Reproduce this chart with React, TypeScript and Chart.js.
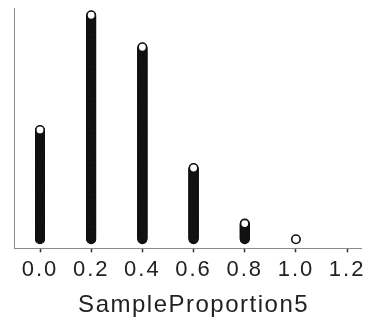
import React, { useEffect, useRef } from "react";
import { Chart, registerables } from "chart.js";

Chart.register(...registerables);

const proportions = [0.0, 0.2, 0.4, 0.6, 0.8, 1.0];
const counts = [182, 372, 319, 119, 27, 1];
const xTicks = [0.0, 0.2, 0.4, 0.6, 0.8, 1.0, 1.2];
const xTitle = "SampleProportion5";

const letterSpacingPlugin = {
  id: "letterSpacing",
  beforeDraw(chart: any) {
    (chart.ctx as any).letterSpacing = "2px";
  },
  afterDraw(chart: any) {
    (chart.ctx as any).letterSpacing = "0px";
  },
};

export default function App() {
  const ref = useRef<HTMLCanvasElement | null>(null);

  useEffect(() => {
    if (!ref.current) return;
    const points: { x: number; y: number }[] = [];
    proportions.forEach((p, i) => {
      for (let k = 1; k <= counts[i]; k++) points.push({ x: p, y: k });
    });
    const chart = new Chart(ref.current, {
      type: "scatter",
      data: {
        datasets: [
          {
            data: points,
            pointRadius: 4.2,
            pointBorderWidth: 1.6,
            pointBackgroundColor: "#ffffff",
            pointBorderColor: "#111111",
            showLine: false,
          },
        ],
      },
      options: {
        animation: false,
        responsive: false,
        events: [],
        layout: { padding: { left: 14, right: 0, top: 8, bottom: 2.5 } },
        plugins: {
          legend: { display: false },
          tooltip: { enabled: false },
        },
        scales: {
          x: {
            type: "linear",
            min: -0.1016,
            max: 1.255,
            afterBuildTicks: (scale: any) => {
              scale.ticks = xTicks.map((v) => ({ value: v }));
            },
            afterFit: (scale: any) => {
              scale.paddingLeft = 0;
              scale.paddingRight = 0;
              if (!scale._titlePatched) {
                const orig = Object.getPrototypeOf(scale).drawTitle;
                scale.drawTitle = function () {
                  const ctx = this.ctx;
                  ctx.save();
                  ctx.letterSpacing = "1.5px";
                  ctx.translate(6, 0);
                  orig.call(this);
                  ctx.restore();
                };
                scale._titlePatched = true;
              }
            },
            ticks: {
              callback: (v: any) => Number(v).toFixed(1),
              font: { family: "'Liberation Sans', Arial, sans-serif", size: 22 },
              color: "#222222",
              padding: 4.5,
              maxRotation: 0,
              autoSkip: false,
            },
            grid: {
              display: true,
              drawOnChartArea: false,
              drawTicks: true,
              tickLength: 4,
              tickWidth: 1.5,
              tickColor: "#333333",
            },
            border: { display: true, color: "#8a8a8a", width: 1, dash: [1, 1] },
            title: {
              display: true,
              text: xTitle,
              font: { family: "'Liberation Sans', Arial, sans-serif", size: 24 },
              color: "#222222",
              padding: { top: 3, bottom: 0 },
            },
          },
          y: {
            type: "linear",
            min: -14,
            max: 384,
            afterFit: (scale: any) => {
              scale.width = 0;
            },
            ticks: { display: false },
            grid: { display: false, drawTicks: false },
            border: { display: true, color: "#8a8a8a", width: 1, dash: [1, 1] },
          },
        },
      },
      plugins: [letterSpacingPlugin],
    });
    return () => chart.destroy();
  }, []);

  return (
    <div style={{ position: "fixed", left: 0, top: 0, width: 367, height: 322, background: "#fff" }}>
      <canvas ref={ref} width={367} height={322} />
    </div>
  );
}
